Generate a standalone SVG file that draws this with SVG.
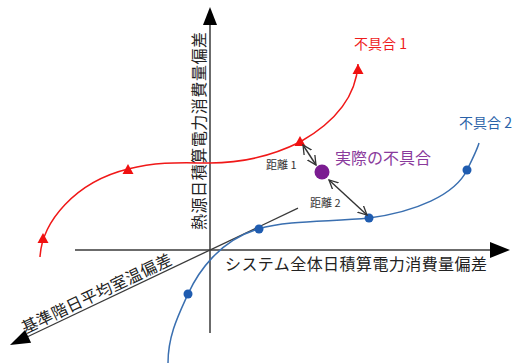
<svg xmlns="http://www.w3.org/2000/svg" width="523" height="363" viewBox="0 0 523 363">
<style>
text{font-family:"Noto Sans CJK JP","Noto Sans",sans-serif}
.ax{stroke:#3a3a3a;stroke-width:1.5;fill:none}
.ah{fill:#000}
.axl{font-size:16px;fill:#222}
.red{stroke:#f01818;stroke-width:1.5;fill:none}
.tri{fill:#f01010}
.blue{stroke:#3a6fb0;stroke-width:1.5;fill:none}
.dot{fill:#1f5cb0}
.dist{stroke:#333;stroke-width:1.4;fill:none;marker-start:url(#oa);marker-end:url(#oa)}
.dl{font-size:11px;fill:#333}
</style>
<defs>
<marker id="oa" viewBox="0 0 10 10" refX="9" refY="5" markerWidth="10" markerHeight="10" markerUnits="userSpaceOnUse" orient="auto-start-reverse">
<path d="M0,0.5 L9,5 L0,9.5" fill="none" stroke="#333" stroke-width="1.3"/>
</marker>
</defs>
<rect width="523" height="363" fill="#fff"/>
<g id="axes">
<g id="axis-y">
<line class="ax" x1="210" y1="333" x2="210" y2="24"/>
<polygon class="ah" points="210,7 203,25 217,25"/>
<text class="axl" font-size="15" transform="translate(205,131) rotate(-90)" text-anchor="middle" textLength="198" lengthAdjust="spacing">熱源日積算電力消費量偏差</text>
</g>
<g id="axis-x">
<line class="ax" x1="75" y1="250" x2="491" y2="250"/>
<polygon class="ah" points="510,250 490,242 490,258"/>
<text class="axl" x="225" y="270" textLength="262" lengthAdjust="spacing">システム全体日積算電力消費量偏差</text>
</g>
<g id="axis-z">
<line class="ax" style="stroke-width:1.3" x1="298" y1="208.2" x2="27" y2="337"/>
<polygon class="ah" points="10,345 31.1,342.7 25.1,330.1"/>
<text class="axl" transform="translate(25,334) rotate(-25.4)" textLength="164" lengthAdjust="spacing">基準階日平均室温偏差</text>
</g>
</g>
<g id="connectors">
<g id="curve1">
<path class="red" d="M40,257 C42,222 75,182 128,169 C160,161 185,163 210,163 C250,163 280,152 300,142 C330,125 356,100 358,64"/>
<polygon class="tri" points="43,233 37.5,243 48.5,243"/>
<polygon class="tri" points="128,164 122.5,174 133.5,174"/>
<polygon class="tri" points="300,136 294.5,146 305.5,146"/>
<polygon class="tri" points="358,64 352.5,74 363.5,74"/>
</g>
<g id="curve2">
<path class="blue" d="M168,363 C168,335 179,314 188,294 C198,272 220,240 258,229 C290,220 330,222 369,218 C415,212 455,195 467,170 C472,160 477,150 479,143"/>
<circle class="dot" cx="188" cy="294" r="4.5"/>
<circle class="dot" cx="259" cy="229" r="4.5"/>
<circle class="dot" cx="369" cy="218" r="4.5"/>
<circle class="dot" cx="467" cy="170" r="4.5"/>
</g>
<path id="dist1" class="dist" d="M303,145 L316,165"/>
<path id="dist2" class="dist" d="M329,180 L367,215"/>
</g>
<g id="node-actual">
<circle cx="322" cy="172" r="7.5" fill="#7b1c91"/>
<text x="335" y="164" font-size="16" fill="#8a3a9c">実際の不具合</text>
</g>
<g id="label-fault1"><text x="354" y="49" font-size="14" fill="#ee1c1c">不具合 1</text></g>
<g id="label-fault2"><text x="459" y="128" font-size="14" fill="#2a62a8">不具合 2</text></g>
<g id="label-dist1"><text class="dl" x="266" y="169">距離 1</text></g>
<g id="label-dist2"><text class="dl" x="310" y="207">距離 2</text></g>
</svg>
